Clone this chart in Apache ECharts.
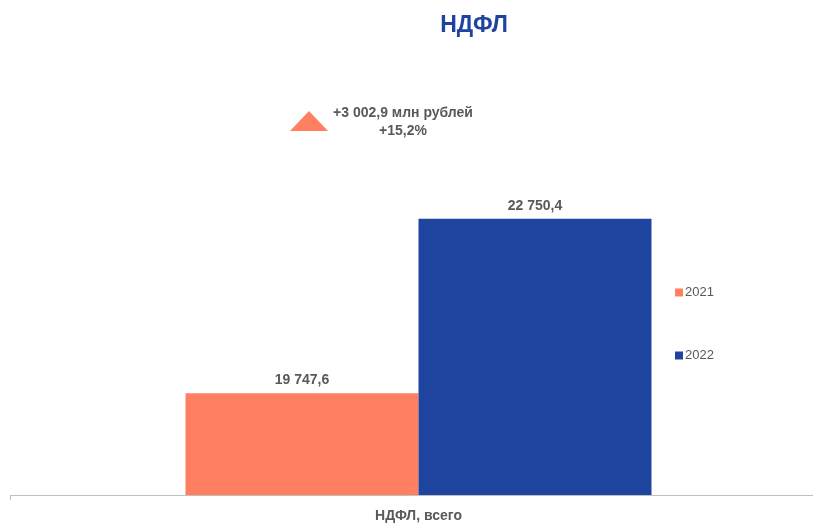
<!DOCTYPE html>
<html><head><meta charset="utf-8">
<script src="https://cdn.jsdelivr.net/npm/echarts@6/dist/echarts.min.js"></script>
<style>html,body{margin:0;padding:0;background:#fff}#c{width:813px;height:523px}</style>
</head><body><div id="c"></div>
<script>
const categories = ['НДФЛ, всего'];
const seriesNames = ['2021', '2022'];
const values2021 = [19747.6];
const values2022 = [22750.4];
const annotationLines = ['+3 002,9 млн рублей', '+15,2%'];

const fmt = v => {
  const [i, d] = v.toFixed(1).split('.');
  return i.replace(/\B(?=(\d{3})+(?!\d))/g, ' ') + ',' + d;
};
const chart = echarts.init(document.getElementById('c'));
const labelStyle = {show: true, position: 'top', formatter: p => fmt(p.value), color: '#595959', fontWeight: 'bold', fontSize: 14, fontFamily: 'Liberation Sans, Arial', distance: 6};
const yMin = 18000;
chart.setOption({
  animation: false,
  title: {text: 'НДФЛ', left: 469, top: 9, textAlign: 'center', textStyle: {color: '#1F44A0', fontSize: 23, fontWeight: 'bold', fontFamily: 'Liberation Sans, Arial'}},
  legend: {orient: 'vertical', left: 670, top: 281, itemGap: 50, itemWidth: 8, itemHeight: 8, icon: 'rect', data: seriesNames,
    textStyle: {color: '#595959', fontSize: 13, fontFamily: 'Liberation Sans, Arial', padding: [0,0,0,-3]}},
  grid: {left: 24, right: 0, top: 146, bottom: 26, containLabel: false},
  xAxis: {type: 'category', data: categories,
    axisLine: {show: false},
    axisTick: {show: false},
    axisLabel: {color: '#595959', fontWeight: 'bold', fontSize: 14, fontFamily: 'Liberation Sans, Arial', margin: 14}},
  yAxis: {type: 'value', min: yMin, max: 24000, show: false, splitLine: {show: false}},
  series: [
    {name: seriesNames[0], type: 'bar', data: values2021, barWidth: 233, barGap: '0%', itemStyle: {color: '#FF7F62'}, label: labelStyle},
    {name: seriesNames[1], type: 'bar', data: values2022, barWidth: 233, barGap: '0%', itemStyle: {color: '#1F44A0'}, label: labelStyle}
  ]
});
const baseY = Math.round(chart.convertToPixel({yAxisIndex: 0}, yMin)) + 0.5;
chart.setOption({
  graphic: [
    {type: 'line', z: 10, shape: {x1: 10, y1: baseY, x2: 813, y2: baseY}, style: {stroke: '#bfbfbf', lineWidth: 1}},
    {type: 'line', z: 10, shape: {x1: 10.5, y1: baseY, x2: 10.5, y2: baseY + 4.5}, style: {stroke: '#bfbfbf', lineWidth: 1}},
    {type: 'polygon', shape: {points: [[290, 131], [309, 111], [328, 131]]}, style: {fill: '#FF7F62'}},
    {type: 'text', left: 403 - 80, top: 104, style: {text: annotationLines.join('\n'), width: 160, align: 'center', textAlign: 'center', x: 80, fill: '#595959', font: 'bold 14px "Liberation Sans", Arial', lineHeight: 18}}
  ]
});
</script></body></html>
